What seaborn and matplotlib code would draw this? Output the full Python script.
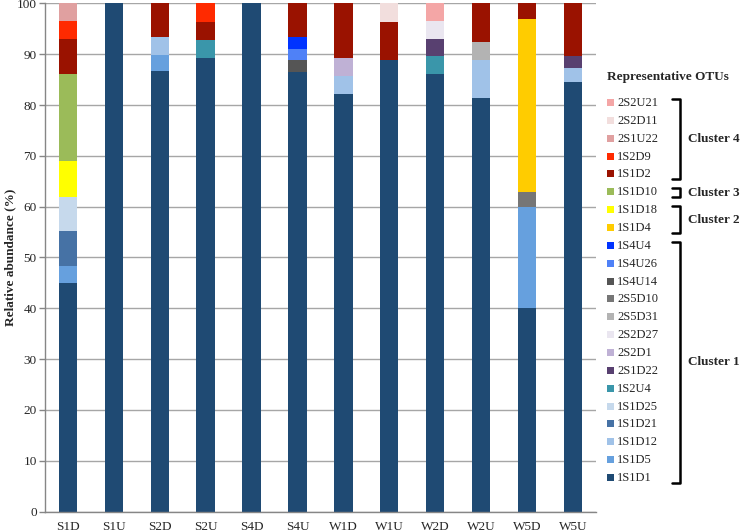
import matplotlib
matplotlib.use("Agg")
import matplotlib.pyplot as plt
from matplotlib.patches import Rectangle
from matplotlib.lines import Line2D
import seaborn as sns
import pandas as pd
import numpy as np

samples = ['S1D', 'S1U', 'S2D', 'S2U', 'S4D', 'S4U',
           'W1D', 'W1U', 'W2D', 'W2U', 'W5D', 'W5U']

# legend order (top of stack first)
otus = ['2S2U21', '2S2D11', '2S1U22', '1S2D9', '1S1D2', '1S1D10', '1S1D18',
        '1S1D4', '1S4U4', '1S4U26', '1S4U14', '2S5D10', '2S5D31', '2S2D27',
        '2S2D1', '2S1D22', '1S2U4', '1S1D25', '1S1D21', '1S1D12', '1S1D5', '1S1D1']
otu_colors = ['#f4a6a6', '#f2dedd', '#e0a0a0', '#ff2a00', '#9a1200', '#9bbb59',
              '#ffff00', '#ffcc00', '#0033ff', '#4f81f7', '#555555', '#767676',
              '#b3b3b3', '#eae6f0', '#bfb1d5', '#584070', '#3a96aa', '#c6d9ec',
              '#4672a5', '#a0c2e8', '#66a0de', '#1f4a73']

# relative abundance (%) per sample
otu_2S2U21 = [0, 0, 0, 0, 0, 0, 0, 0, 3.5, 0, 0, 0]
otu_2S2D11 = [0, 0, 0, 0, 0, 0, 0, 3.7, 0, 0, 0, 0]
otu_2S1U22 = [3.5, 0, 0, 0, 0, 0, 0, 0, 0, 0, 0, 0]
otu_1S2D9 = [3.5, 0, 0, 3.6, 0, 0, 0, 0, 0, 0, 0, 0]
otu_1S1D2 = [6.8, 0, 6.6, 3.6, 0, 6.6, 10.7, 7.4, 0, 7.5, 3.0, 10.4]
otu_1S1D10 = [17.3, 0, 0, 0, 0, 0, 0, 0, 0, 0, 0, 0]
otu_1S1D18 = [6.9, 0, 0, 0, 0, 0, 0, 0, 0, 0, 0, 0]
otu_1S1D4 = [0, 0, 0, 0, 0, 0, 0, 0, 0, 0, 34.2, 0]
otu_1S4U4 = [0, 0, 0, 0, 0, 2.3, 0, 0, 0, 0, 0, 0]
otu_1S4U26 = [0, 0, 0, 0, 0, 2.2, 0, 0, 0, 0, 0, 0]
otu_1S4U14 = [0, 0, 0, 0, 0, 2.3, 0, 0, 0, 0, 0, 0]
otu_2S5D10 = [0, 0, 0, 0, 0, 0, 0, 0, 0, 0, 2.8, 0]
otu_2S5D31 = [0, 0, 0, 0, 0, 0, 0, 0, 0, 3.6, 0, 0]
otu_2S2D27 = [0, 0, 0, 0, 0, 0, 0, 0, 3.5, 0, 0, 0]
otu_2S2D1 = [0, 0, 0, 0, 0, 0, 3.6, 0, 0, 0, 0, 0]
otu_2S1D22 = [0, 0, 0, 0, 0, 0, 0, 0, 3.4, 0, 0, 2.4]
otu_1S2U4 = [0, 0, 0, 3.5, 0, 0, 0, 0, 3.4, 0, 0, 0]
otu_1S1D25 = [6.8, 0, 0, 0, 0, 0, 0, 0, 0, 0, 0, 0]
otu_1S1D21 = [6.8, 0, 0, 0, 0, 0, 0, 0, 0, 0, 0, 0]
otu_1S1D12 = [0, 0, 3.5, 0, 0, 0, 3.6, 0, 0, 7.5, 0, 2.6]
otu_1S1D5 = [3.4, 0, 3.2, 0, 0, 0, 0, 0, 0, 0, 20.0, 0]
otu_1S1D1 = [45.0, 100, 86.7, 89.3, 100, 86.6, 82.1, 88.9, 86.2, 81.4, 40.0, 84.6]

# clusters: (first legend index, last legend index, label)
clusters = [(0, 4, 'Cluster 4'), (5, 5, 'Cluster 3'), (6, 7, 'Cluster 2'), (8, 21, 'Cluster 1')]

series = [otu_2S2U21, otu_2S2D11, otu_2S1U22, otu_1S2D9, otu_1S1D2, otu_1S1D10,
          otu_1S1D18, otu_1S1D4, otu_1S4U4, otu_1S4U26, otu_1S4U14, otu_2S5D10,
          otu_2S5D31, otu_2S2D27, otu_2S2D1, otu_2S1D22, otu_1S2U4, otu_1S1D25,
          otu_1S1D21, otu_1S1D12, otu_1S1D5, otu_1S1D1]
abundance = pd.DataFrame(dict(zip(otus, series)), index=samples)

sns.set_theme(style="white")
plt.rcParams['font.family'] = ['Liberation Serif', 'DejaVu Serif']

fig = plt.figure(figsize=(7.4, 5.32), dpi=100)
ax = fig.add_axes([0.0608, 0.0385, 0.7443, 0.955])

# cumulative heights from the bottom of the stack; draw tallest first
cum = abundance[otus[::-1]].cumsum(axis=1)
for otu, color in zip(otus, otu_colors):
    sns.barplot(x=samples, y=cum[otu].values, color=color, saturation=1,
                width=0.4, linewidth=0, errorbar=None, ax=ax)

grid_gray = '#a6a6a6'
axis_gray = '#868686'
ax.set_xlim(-0.5, 11.5)
ax.set_ylim(0, 100)
ax.set_yticks(range(0, 101, 10))
ax.yaxis.grid(True, color=grid_gray, lw=1)
ax.xaxis.grid(False)
ax.set_axisbelow(True)
ax.set_xticks(range(len(samples)))
ax.set_xticklabels(samples, fontsize=9.5)
ax.set_xticks(np.arange(-0.5, len(samples), 1), minor=True)
ax.tick_params(axis='x', which='major', length=0, pad=7)
ax.tick_params(axis='x', which='minor', length=4, color=axis_gray, width=1, direction='out')
ax.tick_params(axis='y', length=4, color=axis_gray, width=1, direction='out', labelsize=9.5, pad=2)
ax.tick_params(bottom=True, left=True)
for side in ['top', 'right']:
    ax.spines[side].set_visible(False)
for side in ['left', 'bottom']:
    ax.spines[side].set_color(axis_gray)
    ax.spines[side].set_linewidth(1)
ax.set_xlabel('')
ax.set_ylabel('Relative abundance (%)', fontweight='bold', fontsize=9.5)
ax.yaxis.set_label_coords(-0.0526, 0.5)


def fx(px):
    return px / 740


def fy(py):
    return 1 - py / 532


# legend drawn by hand so the cluster brackets line up
fig.text(fx(607), fy(77), 'Representative OTUs', fontweight='bold', fontsize=9.5, va='center')
row0, step = 103, 17.86
for i, (otu, color) in enumerate(zip(otus, otu_colors)):
    y = row0 + step * i
    fig.add_artist(Rectangle((fx(607), fy(y + 3)), 7 / 740, 7 / 532,
                             transform=fig.transFigure, color=color, lw=0))
    fig.text(fx(617), fy(y), otu, fontsize=9, va='center')

for first, last, label in clusters:
    top = row0 + step * first - 4
    bot = row0 + step * last + 5
    fig.add_artist(Line2D([fx(672), fx(680), fx(680), fx(672)],
                          [fy(top), fy(top), fy(bot), fy(bot)],
                          transform=fig.transFigure, color='black', lw=1.8))
    fig.text(fx(688), fy((top + bot) / 2), label, fontweight='bold', fontsize=9.5, va='center')

fig.savefig('out.png', dpi=100)
